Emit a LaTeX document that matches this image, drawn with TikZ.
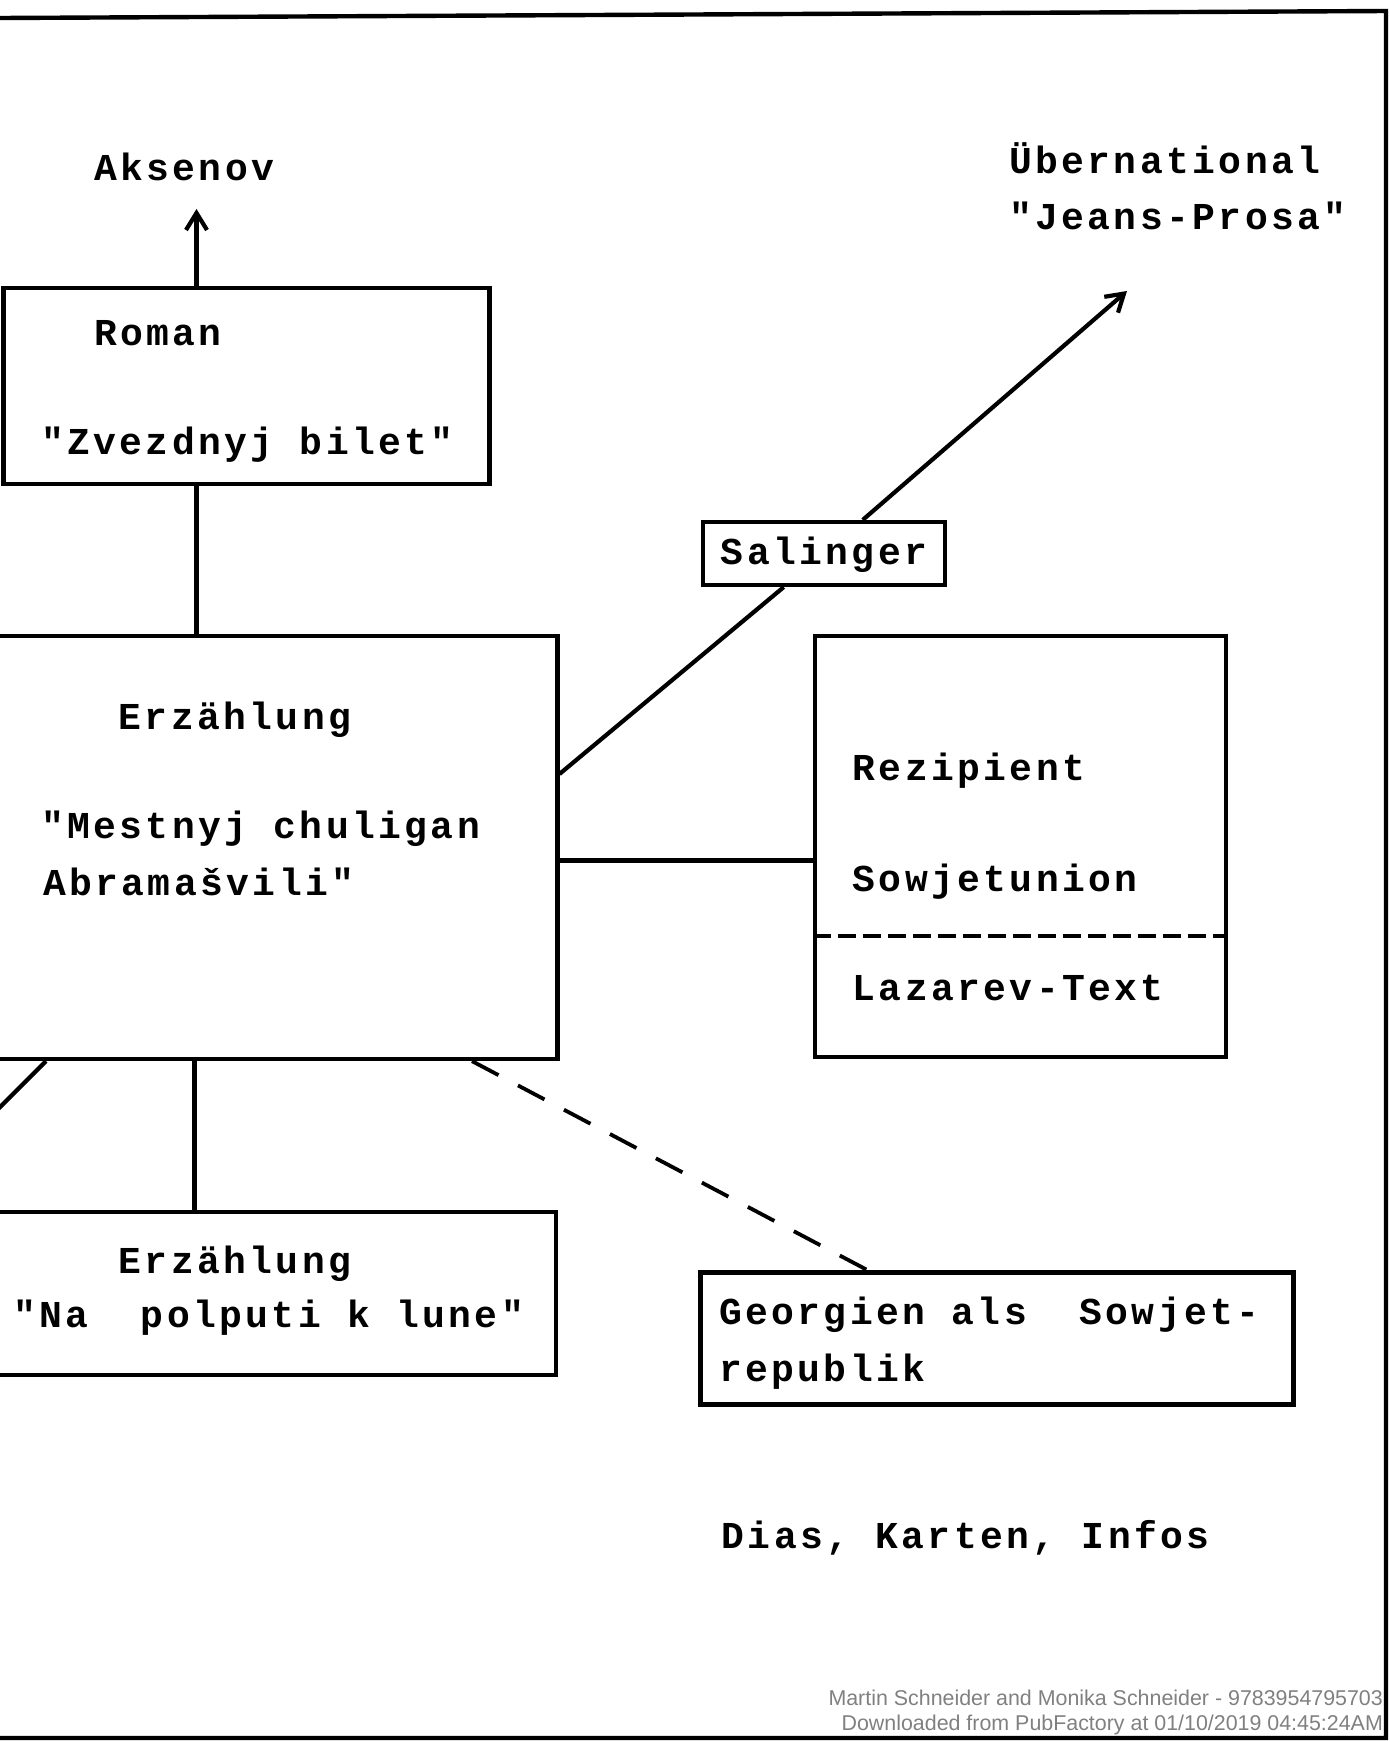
\documentclass[tikz,border=0pt]{standalone}
\usepackage{fontspec}
\newfontfamily\tw{Liberation Mono}[LetterSpace=9]
\newfontfamily\wmfont{Liberation Sans}
\usetikzlibrary{arrows.meta}
\begin{document}
\begin{tikzpicture}[x=0.5pt,y=-0.5pt,line width=2.1pt,
  boxnode/.style={draw,line width=2.1pt,inner sep=0pt,rectangle},
  tx/.style={anchor=base west,inner sep=0pt,font=\tw\bfseries\fontsize{19}{22}\selectfont},
  arr/.style={-{Straight Barb[length=8.5pt,width=10.5pt,line width=2.1pt]}},
  longdash/.style={line width=1.9pt,dash pattern=on 15pt off 11pt},
  shortdash/.style={line width=1.9pt,dash pattern=on 9pt off 3.5pt},
  wm/.style={anchor=base east,inner sep=0pt,text=black!50,font=\wmfont\fontsize{10.7}{12}\selectfont}]
\useasboundingbox (0,0) rectangle (1389,1741);
% page frame
\draw[line width=2.2pt] (0,18) -- (1386,11) -- (1386,1738) -- (0,1738);
% boxes
\node[boxnode,minimum width=243pt,minimum height=98.2pt] (roman) at (246.5,385.8) {};
\node[boxnode,minimum width=283.7pt,minimum height=211.5pt] (main) at (273.7,847.5) {};
\node[boxnode,minimum width=205.5pt,minimum height=210.5pt] (rez) at (1020.5,846.5) {};
\node[boxnode,minimum width=121pt,minimum height=31.5pt] (sal) at (824,553.5) {};
\node[boxnode,minimum width=283pt,minimum height=81.5pt] (erz2) at (273,1293.5) {};
\node[boxnode,minimum width=296.5pt,minimum height=66pt] (geo) at (997,1338.5) {};
% texts
\node[tx] (aks) at (92,180) {Aksenov};
\node[tx] (ub1) at (1007,173) {Übernational};
\node[tx] (ub2) at (1007,229) {"Jeans-Prosa"};
\node[tx] (t1) at (92,345) {Roman};
\node[tx] (t2) at (39,454) {"Zvezdnyj bilet"};
\node[tx,anchor=base] (saltxt) at (824,564) {Salinger};
\node[tx] (t3) at (116.6,729.5) {Erzählung};
\node[tx] (t4) at (39,838) {"Mestnyj chuligan};
\node[tx] (t5) at (41,895) {Abramašvili"};
\node[tx] (t6) at (850.5,780.5) {Rezipient};
\node[tx] (t7) at (850.5,891.5) {Sowjetunion};
\node[tx] (t8) at (850.5,1000) {Lazarev-Text};
\node[tx] (t9) at (116.6,1273.5) {Erzählung};
\node[tx] (t10) at (11,1327) {"Na\ \ polputi k lune"};
\node[tx] (t11) at (717,1324.6) {Georgien als\ \ Sowjet-};
\node[tx] (t12) at (717,1381) {republik};
\node[tx] (t13) at (719.5,1548) {Dias, Karten, Infos};
% connectors
\coordinate (akstip) at (196.5,209);
\coordinate (jptip) at (1127,291);
\draw[arr] (akstip |- roman.north) -- (akstip);
\draw (akstip |- roman.south) -- (akstip |- main.north);
\draw (main.east |- 0,774) -- (sal);
\draw[arr] (sal) -- (jptip);
\draw (main.east |- 0,860.5) -- (rez.west |- 0,860.5);
\draw[shortdash] (rez.west |- 0,936) -- (rez.east |- 0,936);
\draw (main.south -| 46,0) -- (-30,1137);
\draw (main.south -| 194.5,0) -- (erz2.north -| 194.5,0);
\draw[longdash] (main.south -| 472,0) -- (geo.north -| 868,0);
% watermark
\node[wm] (wm1) at (1385,1705) {Martin Schneider and Monika Schneider - 9783954795703};
\node[wm] (wm2) at (1385,1730) {Downloaded from PubFactory at 01/10/2019 04:45:24AM};
\end{tikzpicture}
\end{document}
